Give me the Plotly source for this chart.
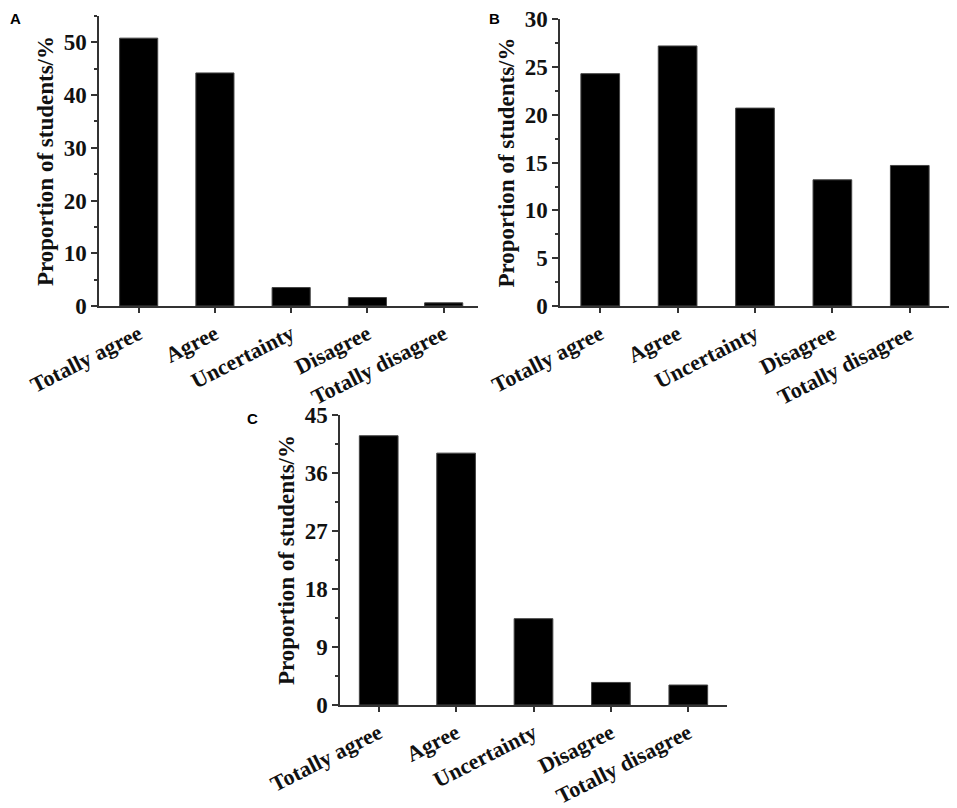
import plotly.graph_objects as go

categories = ["Totally agree", "Agree", "Uncertainty", "Disagree", "Totally disagree"]

values_a = [50.8, 44.2, 3.5, 1.6, 0.6]
values_b = [24.3, 27.2, 20.7, 13.2, 14.7]
values_c = [41.8, 39.1, 13.4, 3.5, 3.1]

ticks_a = [0, 10, 20, 30, 40, 50]
ticks_b = [0, 5, 10, 15, 20, 25, 30]
ticks_c = [0, 9, 18, 27, 36, 45]

W, H = 957, 808
OFF = 8  # page body margin around the plot div
SERIF = "Liberation Serif"


def px_x(v):
    return (v - OFF) / W


def px_y(v):
    return 1 - (v - OFF) / H


fig = go.Figure()

panels = [
    # values, ticks, y range, minor step, x range, x domain px, y domain px
    (values_a, ticks_a, [0, 55], 5, [-0.52, 4.45], (99, 478), (306, 16)),
    (values_b, ticks_b, [0, 30.02], 2.5, [-0.52, 4.52], (560, 950), (306, 19)),
    (values_c, ticks_c, [0, 45.02], 4.5, [-0.5, 4.5], (340, 727), (705, 415)),
]

for i, (vals, ticks, yr, minor, xr, xd, yd) in enumerate(panels, start=1):
    sfx = "" if i == 1 else str(i)
    fig.add_trace(go.Bar(
        x=categories, y=vals, width=0.5,
        marker=dict(color="black", line=dict(color="#444", width=1)),
        xaxis="x" + sfx, yaxis="y" + sfx, showlegend=False,
    ))
    fig.layout["xaxis" + sfx] = dict(
        domain=[px_x(xd[0]), px_x(xd[1])], anchor="y" + sfx,
        range=xr, type="category", automargin=False,
        showline=True, linecolor="#333", linewidth=1.5,
        ticks="outside", ticklen=5, tickcolor="#333", tickwidth=1.5,
        tickangle=-27, showgrid=False, zeroline=False,
        tickfont=dict(family=SERIF, size=22, color="#111", weight="bold"),
    )
    fig.layout["yaxis" + sfx] = dict(
        domain=[px_y(yd[0]), px_y(yd[1])], anchor="x" + sfx,
        range=yr, tickvals=ticks, automargin=False, ticklabeloverflow="allow",
        showline=True, linecolor="#333", linewidth=1.5,
        ticks="outside", ticklen=6, tickcolor="#333", tickwidth=1.5,
        minor=dict(ticks="outside", ticklen=3, tickcolor="#333",
                   tick0=minor, dtick=minor * 2),
        showgrid=False, zeroline=False,
        tickfont=dict(family=SERIF, size=23, color="#111", weight="bold"),
        title=dict(text="Proportion of students/%", standoff=4,
                   font=dict(family=SERIF, size=23, color="#111", weight="bold")),
    )

# panel letters; the first two sit at the very top of the page
for letter, x, y in [("A", 8, 8), ("B", 487, 8), ("C", 245, 408)]:
    fig.add_annotation(
        text=letter, x=px_x(x), y=px_y(y), xref="paper", yref="paper",
        showarrow=False, xanchor="left", yanchor="top",
        font=dict(family="Liberation Sans", size=15, color="black", weight="bold"),
    )

fig.update_layout(
    width=W, height=H,
    margin=dict(l=0, r=0, t=0, b=0),
    paper_bgcolor="white", plot_bgcolor="white",
)

fig.write_html("out.html")
